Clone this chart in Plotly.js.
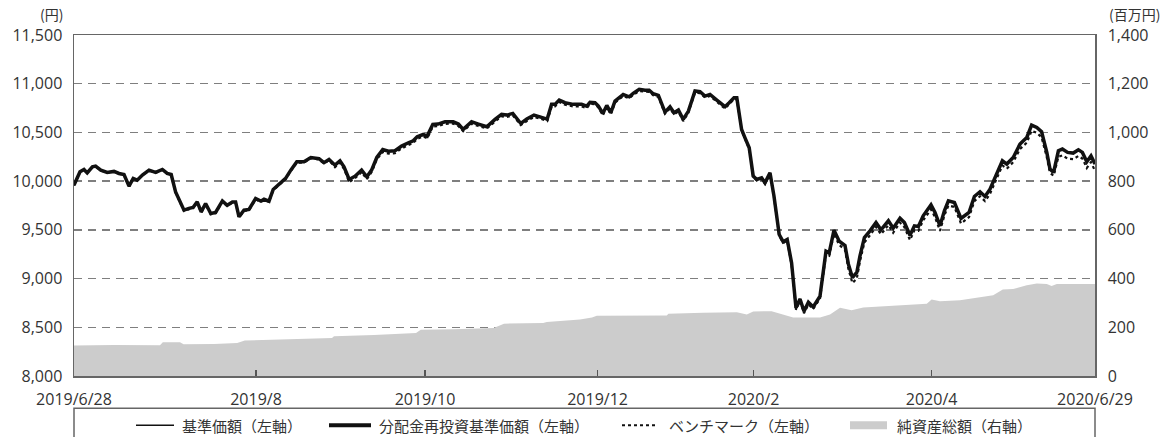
<!DOCTYPE html>
<html>
<head>
<meta charset="utf-8">
<script src="https://cdn.plot.ly/plotly-3.0.1.min.js"></script>
<style>html,body{margin:0;padding:0;background:#fff;}#chart{width:1175px;height:437px;}</style>
</head>
<body>
<div id="chart"></div>
<script>
// x positions: business-day index along the axis
const day = [
 0,1.5,2.5,3.3,4.6,5.4,6.7,8.3,10,11.25,12.5,13.75,14.8,15.8,17.1,18.75,20.4,22.1,23.3,24.3,
 25.4,26.5,27.5,28.75,29.75,30.8,31.8,32.9,34.2,35.4,37.1,38.3,39.6,40.4,41.25,42.5,43.75,45.4,46.7,47.5,48.75,49.8,51.25,52.9,54.2,55.7,57.5,59.2,61.25,62.5,63.75,
 65.25,66.5,67.5,68.8,70.25,71.9,73.2,74.4,75.7,77.2,78.6,80.25,81.9,83.6,84.8,85.8,87.3,88.3,89.7,91,92.75,94.8,96.1,97.3,99.4,101.1,103.2,105.25,106.9,108.2,109.7,111.7,113.2,115,116.7,118.3,119.4,120.25,121.3,122.75,124.8,126.9,128.2,
 129,130.25,131.1,132.2,133.2,134.2,135.25,137.3,138.8,139.8,141.3,142.75,143.8,144.8,146.1,147.75,149,150,151.1,152.3,153.6,155.25,156.5,157.75,159,160.7,162.75,163.8,165,165.7,
 166.9,167.75,168.8,169.8,170.7,171.9,172.75,174,175,176.3,177.3,178.3,
 179.4,180.5,181.5,182.5,183.6,184.8,186.5,188,188.8,190,191.3,192.75,193.6,194.6,
 195.7,196.5,197.6,199,200.5,201.75,203.6,204.8,206.5,207.6,209,210.1,211.1,212.3,214.25,215.25,216.5,217.6,218.6,220.1,221.75,223.75,225.1,226.5,227.75,229,230.4,232.1,233.2,234.8,
 236.5,238.2,239.4,240.7,241.9,243.2,244,244.9,246.1,247.1,248.4,249.8,251.1,252.1,253.2,254.25,255.25
];
// 基準価額 (円) — 分配金再投資基準価額 is identical (no distributions)
const nav = [
 9959,10096,10120,10085,10147,10155,10113,10089,10100,10079,10068,9949,10028,10010,10062,10113,10089,10120,10079,10068,
 9890,9787,9702,9720,9730,9787,9685,9770,9668,9678,9797,9753,9787,9787,9634,9702,9710,9822,9795,9815,9795,9915,9970,10028,10113,10199,10199,10243,10230,10190,10222,
 10164,10209,10147,10017,10051,10113,10045,10113,10243,10325,10308,10312,10360,10394,10414,10455,10479,10462,10582,10586,10609,10609,10586,10531,10609,10586,10558,10633,10685,10678,10695,10592,10637,10678,10661,10637,10788,10788,10832,10805,10788,10788,10770,
 10808,10805,10771,10695,10777,10702,10822,10890,10866,10901,10942,10932,10932,10897,10880,10709,10764,10702,10730,10634,10719,10925,10918,10873,10890,10832,10764,10805,10856,10856,
 10531,10445,10343,10052,10017,10034,9983,10086,9846,9452,9377,9401,
 9161,8699,8791,8665,8757,8709,8819,9281,9264,9497,9384,9339,9148,9011,
 9062,9233,9421,9490,9575,9500,9593,9517,9620,9575,9445,9541,9534,9644,9757,9678,9541,9695,9798,9781,9617,9678,9843,9891,9843,9918,10055,10209,10175,10243,
 10380,10449,10575,10551,10507,10295,10123,10089,10312,10329,10295,10288,10322,10295,10199,10260,10175
];
const navReinvest = nav;
// ベンチマーク (円)
const bench = [
 9956,10093,10117,10082,10144,10152,10110,10086,10097,10076,10065,9946,10025,10007,10059,10110,10086,10117,10076,10065,
 9882,9779,9694,9712,9722,9779,9677,9762,9660,9670,9789,9745,9779,9779,9626,9694,9702,9814,9787,9807,9787,9907,9962,10020,10105,10191,10191,10235,10222,10182,10214,
 10144,10189,10127,9990,10031,10093,10020,10093,10223,10300,10283,10287,10335,10370,10392,10435,10458,10440,10560,10565,10588,10590,10566,10512,10590,10566,10540,10612,10665,10658,10676,10575,10617,10658,10641,10617,10765,10768,10812,10784,10767,10767,10750,
 10793,10790,10756,10675,10762,10685,10805,10873,10850,10885,10925,10916,10916,10882,10865,10692,10748,10686,10714,10616,10702,10910,10902,10858,10874,10815,10745,10790,10841,10841,
 10520,10434,10333,10042,10007,10024,9972,10075,9836,9440,9365,9390,
 9140,8680,8772,8645,8735,8688,8795,9250,9235,9460,9345,9295,9100,8955,
 9000,9180,9370,9445,9530,9455,9548,9470,9575,9528,9395,9495,9490,9598,9710,9630,9490,9648,9750,9735,9565,9630,9795,9845,9795,9870,10005,10160,10128,10195,
 10330,10395,10518,10495,10450,10245,10085,10055,10250,10265,10230,10225,10258,10232,10135,10195,10105
];
// 純資産総額 (百万円)
const assetDay = [0,10,21.5,22.2,26.5,27.4,35,40.8,42.7,50,54.2,60,64.5,65,75,85.5,86.7,95,104.9,107.5,117.3,118.2,126.5,129.5,130.7,148.2,148.6,157.3,165.7,168.2,169.8,174.4,176.5,179.8,186.5,189,191.5,194.4,197.3,204,213.2,214.4,216.5,221.5,224.8,229.8,232.2,234.8,238.2,240.7,243.2,244.4,245.7,255.25];
const assets = [125,127,126,139,139,130,131,135,146,150,153,155,156,163,168,177,190,192,197,215,218,222,232,240,247,248,256,260,262,252,265,266,255,240,240,253,280,270,281,288,297,314,307,311,320,332,355,357,373,380,378,369,378,378];

const tickPos = [0,45.5,87.75,130.9,169.9,214.4,255.25];
const tickText = ['2019/6/28','2019/8','2019/10','2019/12','2020/2','2020/4','2020/6/29'];
const legendNames = ['基準価額（左軸）','分配金再投資基準価額（左軸）','ベンチマーク（左軸）','純資産総額（右軸）'];

const CJK = '"Noto Sans CJK JP",sans-serif';
const NUM = '"Open Sans","Noto Sans CJK JP",sans-serif';
const INK = '#111111';
const TXT = '#333333';

const traces = [
 {x: assetDay, y: assets, yaxis: 'y', type: 'scatter', mode: 'lines', name: legendNames[3],
  fill: 'tozeroy', fillcolor: '#cccccc', line: {width: 0, color: '#cccccc'}, hoverinfo: 'skip'},
 {x: day, y: nav, yaxis: 'y2', type: 'scatter', mode: 'lines', name: legendNames[0],
  line: {width: 1.5, color: INK}},
 {x: day, y: bench, yaxis: 'y2', type: 'scatter', mode: 'lines', name: legendNames[2],
  line: {width: 2.2, color: INK, dash: 'dot'}},
 {x: day, y: navReinvest, yaxis: 'y2', type: 'scatter', mode: 'lines', name: legendNames[1],
  line: {width: 3.5, color: INK}}
];

// geometry helpers (pixels -> paper)
const L = 74, R = 1095, T = 35, B = 375.7;
const PW = R - L, PH = B - T;
const px = X => (X - L) / PW;
const py = Y => (B - Y) / PH;

const legY = 425;
const shapes = [
 {type: 'rect', xref: 'paper', yref: 'paper', x0: 0, x1: 1, y0: py(408), y1: py(470),
  line: {color: '#666666', width: 1.5}, fillcolor: 'rgba(0,0,0,0)'},
 {type: 'line', xref: 'paper', yref: 'paper', x0: px(136), x1: px(174), y0: py(legY), y1: py(legY),
  line: {color: INK, width: 1.5}},
 {type: 'line', xref: 'paper', yref: 'paper', x0: px(329), x1: px(371), y0: py(legY), y1: py(legY),
  line: {color: INK, width: 4}},
 {type: 'line', xref: 'paper', yref: 'paper', x0: px(622), x1: px(656), y0: py(legY), y1: py(legY),
  line: {color: INK, width: 2, dash: 'dot'}},
 {type: 'rect', xref: 'paper', yref: 'paper', x0: px(850), x1: px(887), y0: py(legY - 4), y1: py(legY + 4),
  line: {width: 0}, fillcolor: '#cccccc'}
];
const legX = [180, 377, 667, 895];
const annotations = legendNames.map((t, i) => ({
 text: t, xref: 'paper', yref: 'paper', x: px(legX[i]), y: py(legY), xanchor: 'left', yanchor: 'middle',
 showarrow: false, font: {family: CJK, size: 15, color: TXT}
}));
annotations.push(
 {text: '(円)', xref: 'paper', yref: 'paper', x: px(51), y: py(14), xanchor: 'center', yanchor: 'middle',
  showarrow: false, font: {family: CJK, size: 14, color: TXT}},
 {text: '(百万円)', xref: 'paper', yref: 'paper', x: px(1134), y: py(14), xanchor: 'center', yanchor: 'middle',
  showarrow: false, font: {family: CJK, size: 14, color: TXT}}
);

const layout = {
 width: 1175, height: 437,
 margin: {l: L, r: 1175 - R, t: T, b: 437 - B, pad: 0, autoexpand: false},
 paper_bgcolor: '#ffffff', plot_bgcolor: '#ffffff',
 font: {family: NUM, size: 16, color: TXT},
 showlegend: false,
 xaxis: {range: [0, 255.25], tickmode: 'array', tickvals: tickPos, ticktext: tickText,
  ticks: 'inside', ticklen: 6, tickwidth: 1.5, tickcolor: '#555555',
  showline: true, mirror: true, linecolor: '#666666', linewidth: 1.5,
  showgrid: false, zeroline: false, ticklabelstandoff: 8, tickfont: {family: NUM, size: 16, color: TXT}},
 yaxis: {side: 'right', range: [0, 1400], dtick: 200, tickformat: ',', ticks: '',
  showline: true, linecolor: '#666666', linewidth: 1.5, zeroline: false,
  showgrid: true, gridcolor: '#7f7f7f', gridwidth: 1.5, griddash: '8px,6px',
  ticklabelstandoff: 8, tickfont: {family: NUM, size: 16, color: TXT}},
 yaxis2: {overlaying: 'y', side: 'left', range: [8000, 11500], dtick: 500, tickformat: ',', ticks: '',
  showline: true, linecolor: '#666666', linewidth: 1.5, zeroline: false, showgrid: false,
  ticklabelstandoff: 7, tickfont: {family: NUM, size: 16, color: TXT}},
 shapes: shapes,
 annotations: annotations
};

Plotly.newPlot('chart', traces, layout, {displayModeBar: false, staticPlot: true});
</script>
</body>
</html>
